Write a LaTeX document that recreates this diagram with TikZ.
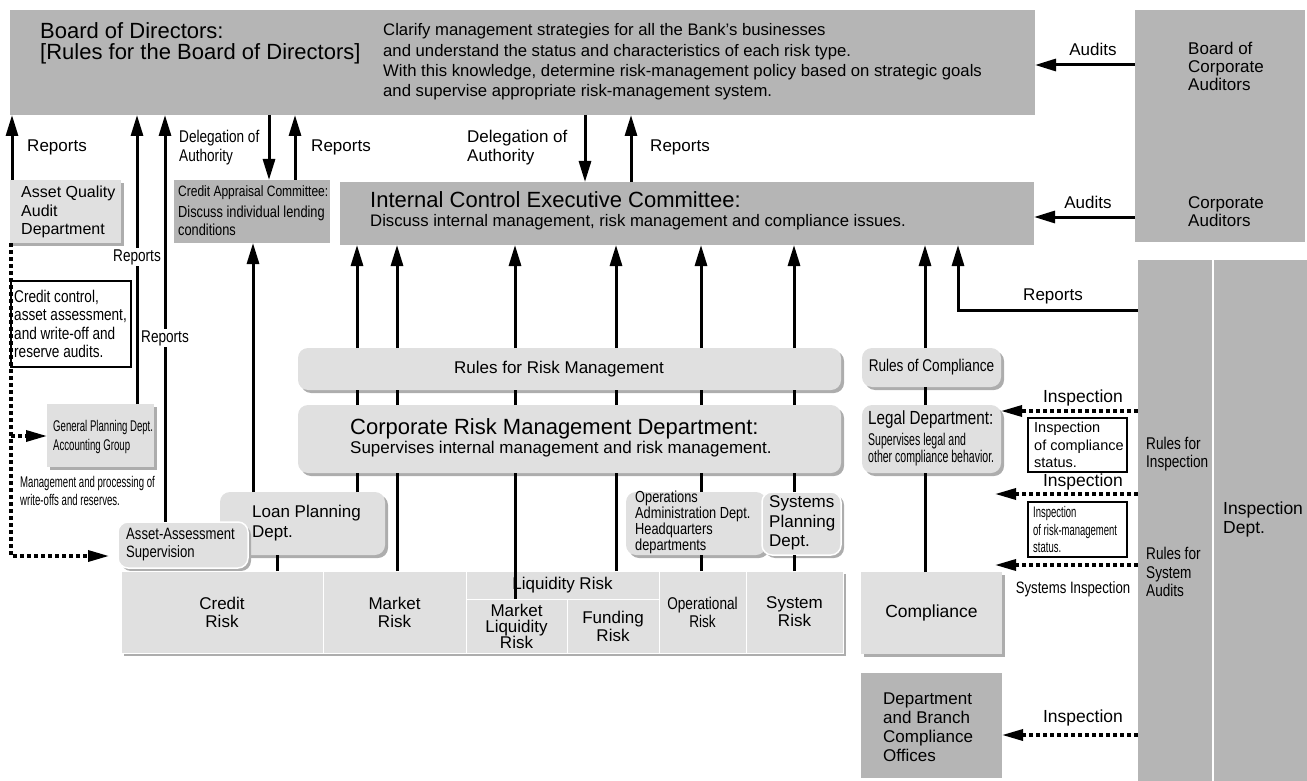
\documentclass[tikz,border=0pt]{standalone}
\usepackage{fontspec}
\setmainfont{Liberation Sans}
\newfontfamily\narrowfont[FakeStretch=0.8]{Liberation Sans}
\newfontfamily\condfont[FakeStretch=0.62]{Liberation Sans}
\usetikzlibrary{arrows.meta,shadows}
\definecolor{boxdark}{gray}{0.71}
\definecolor{boxlight}{gray}{0.88}
\definecolor{boxshade}{gray}{0.68}
\newcommand{\setfs}[2]{\fontsize{#1}{#2}\selectfont}
\tikzset{wh/.style 2 args={minimum width=#1pt, minimum height=#2pt}}

\begin{document}
\begin{tikzpicture}[x=1pt, y=-1pt,
            dark box/.style={fill=boxdark, inner sep=0pt, outer sep=0pt, anchor=north west},
            light box/.style={fill=boxlight, inner sep=0pt, outer sep=0pt, anchor=north west,
                drop shadow={shadow xshift=3pt, shadow yshift=-3pt, fill=boxshade, opacity=1}},
            round box/.style={light box, rounded corners=10pt},
            note box/.style={draw, fill=white, line width=1.2pt, inner sep=0pt, outer sep=0pt, anchor=north west},
            cell/.style={fill=boxlight, draw=white, line width=1pt, inner sep=0pt, outer sep=0pt, anchor=north west, align=center},
            note/.style={anchor=west, align=left, inner sep=0pt},
            tag/.style={inner sep=0pt, align=left},
            gap label/.style={fill=white, inner sep=1.5pt},
            solid line/.style={line width=3pt},
            solid arrow/.style={line width=3pt, -{Triangle[length=21pt, width=12pt]}},
            dotted arrow/.style={line width=3.3pt, dash pattern=on 4pt off 3pt, -{Triangle[length=21pt, width=11pt]}},
            ]
            \useasboundingbox (0,0) rectangle (1307,781);

            \node[dark box, wh={1025}{105}] (board) at (10,10) {};
            \node[note, font=\setfs{22}{21}] (boardtitle) at (40,43) {Board of Directors:\\ {[Rules for the Board of Directors]}};
            \node[note, font=\setfs{16.7}{20.3}] (boarddesc) at (383,62) {Clarify management strategies for all the Bank’s businesses\\and understand the status and characteristics of each risk type.\\With this knowledge, determine risk-management policy based on strategic goals\\and supervise appropriate risk-management system.};

            \node[dark box, wh={170}{232}] (auditors) at (1135,10) {};
            \node[note, font=\setfs{17}{18}] (boardauditors) at (1188,66) {Board of\\Corporate\\Auditors};
            \node[note, font=\setfs{17}{18}] (corpauditors) at (1188,212) {Corporate\\Auditors};

            \node[dark box, wh={694}{63}] (icec) at (340,182) {};
            \node[note, font=\setfs{22}{24}] (icectitle) at (370,200) {Internal Control Executive Committee:};
            \node[note, font=\setfs{16.7}{20}] (icecdesc) at (370,222) {Discuss internal management, risk management and compliance issues.};

            \node[dark box, wh={156}{63}] (appraisal) at (174,180) {};
            \node[note, font=\narrowfont\setfs{15}{18.5}] (appraisaltitle) at (178,193) {Credit Appraisal Committee:};
            \node[note, font=\narrowfont\setfs{16}{18.5}] (appraisaltext) at (178,221) {Discuss individual lending\\conditions};

            \node[light box, wh={111}{63}] (aqad) at (10,180) {};
            \node[note, font=\setfs{16}{18.5}] (aqadtext) at (21,212) {Asset Quality\\Audit\\Department};

            \node[note box, wh={120}{86}] (auditnote) at (11,281) {};
            \node[note, font=\narrowfont\setfs{17}{18.5}] (auditnotetext) at (14,324) {Credit control,\\asset assessment,\\and write-off and\\reserve audits.};

            \node[light box, wh={107}{63}] (gp) at (47,404) {};
            \node[note, font=\condfont\setfs{15.5}{19}] (gptext) at (53,437) {General Planning Dept.\\Accounting Group};
            \node[note, font=\condfont\setfs{15.5}{18}] (gpnote) at (20,491) {Management and processing of\\write-offs and reserves.};

            \node[round box, wh={543}{42}] (rulesrm) at (298,348) {};
            \node[font=\setfs{17}{20}, inner sep=0pt] (rulesrmtext) at (559,369) {Rules for Risk Management};
            \node[round box, wh={543}{68}] (crm) at (298,405) {};
            \node[note, font=\setfs{22}{22}] (crmtitle) at (350,429) {Corporate Risk Management Department:};
            \node[note, font=\setfs{17}{20}] (crmtext) at (350,449) {Supervises internal management and risk management.};

            \node[round box, wh={165}{63}] (loan) at (220,492) {};
            \node[note, font=\setfs{17}{20}] (loantext) at (252,523) {Loan Planning\\Dept.};
            \node[round box, draw=white, line width=1.5pt, wh={130}{46}] (aas) at (118,522) {};
            \node[note, font=\narrowfont\setfs{16.4}{18}] (aastext) at (126,545) {Asset-Assessment\\Supervision};
            \node[round box, wh={140}{63}] (ops) at (626,492) {};
            \node[note, font=\narrowfont\setfs{16}{14.5}] (opstext) at (635,522) {Operations\\Administration Dept.\\Headquarters\\departments};
            \node[round box, draw=white, line width=1.5pt, wh={79}{63}] (sysplan) at (762,492) {};
            \node[note, font=\setfs{17}{19.5}] (sysplantext) at (769,523) {Systems\\Planning\\Dept.};

            \node[light box, wh={722}{82}] (risks) at (121,571) {};
            \node[cell, wh={202}{82}, font=\setfs{17}{18}] (credit) at (121,571) {Credit\\Risk};
            \node[cell, wh={143}{82}, font=\setfs{17}{18}] (market) at (323,571) {Market\\Risk};
            \node[cell, wh={193}{28}, font=\setfs{17}{18}] (liquidity) at (466,571) {Liquidity Risk};
            \node[cell, wh={101}{54}, font=\setfs{17}{16}] (mktliq) at (466,599) {Market\\Liquidity\\Risk};
            \node[cell, wh={92}{54}, font=\setfs{17}{18}] (funding) at (567,599) {Funding\\Risk};
            \node[cell, wh={87}{82}, font=\narrowfont\setfs{17}{18}] (operational) at (659,571) {Operational\\Risk};
            \node[cell, wh={97}{82}, font=\setfs{17}{18}] (system) at (746,571) {System\\Risk};

            \node[round box, wh={139}{39}, font=\narrowfont\setfs{17}{20}] (rulescomp) at (862,348) {Rules of Compliance};
            \node[round box, wh={139}{68}] (legal) at (862,405) {};
            \node[note, font=\narrowfont\setfs{19}{20}] (legaltitle) at (868,420) {Legal Department:};
            \node[note, font=\condfont\setfs{17}{17}] (legaltext) at (868,450) {Supervises legal and\\other compliance behavior.};
            \node[light box, wh={141}{82}, font=\setfs{17.5}{20}] (compliance) at (861,572) {Compliance};
            \node[dark box, wh={141}{105}] (offices) at (861,673) {};
            \node[note, font=\setfs{17}{19}] (officestext) at (883,727) {Department\\and Branch\\Compliance\\Offices};

            \node[dark box, wh={74}{521}] (rulescol) at (1138,260) {};
            \node[dark box, wh={93}{521}] (inspdept) at (1214,260) {};
            \node[note, font=\narrowfont\setfs{17}{18.5}] (insprules) at (1146,454) {Rules for\\Inspection};
            \node[note, font=\narrowfont\setfs{17}{18.5}] (sysrules) at (1146,572) {Rules for\\System\\Audits};
            \node[note, font=\setfs{17.5}{19}] (inspdepttext) at (1223,519) {Inspection\\Dept.};

            \node[note box, wh={99}{54}] (compnote) at (1028,418) {};
            \node[note, font=\setfs{14.5}{17.5}] (compnotetext) at (1034,445) {Inspection\\of compliance\\status.};
            \node[note box, wh={99}{55}] (risknote) at (1028,502) {};
            \node[note, font=\condfont\setfs{15.3}{17.5}] (risknotetext) at (1033,530) {Inspection\\of risk-management\\status.};

            \node[tag, font=\setfs{17}{20}] (reportsa) at (57,147) {Reports};
            \node[note, font=\narrowfont\setfs{17}{19}] (delega) at (179,148) {Delegation of\\Authority};
            \node[tag, font=\setfs{17}{20}] (reportsb) at (341,147) {Reports};
            \node[note, font=\setfs{17}{19}] (delegb) at (467,148) {Delegation of\\Authority};
            \node[tag, font=\setfs{17}{20}] (reportsc) at (680,147) {Reports};
            \node[tag, font=\setfs{17}{20}] (auditsa) at (1093,49) {Audits};
            \node[tag, font=\setfs{17}{20}] (auditsb) at (1088,202) {Audits};
            \node[tag, font=\setfs{17}{20}] (reportsd) at (1053,296) {Reports};
            \node[tag, font=\setfs{17.5}{20}] (inspa) at (1083,398) {Inspection};
            \node[tag, font=\setfs{17.5}{20}] (inspb) at (1083,482) {Inspection};
            \node[tag, font=\narrowfont\setfs{16.5}{20}] (sysinsp) at (1073,589) {Systems Inspection};
            \node[tag, font=\setfs{17.5}{20}] (inspc) at (1083,718) {Inspection};

            \coordinate (dropa) at (11,436);
            \coordinate (dropb) at (11,556);
            \coordinate (riskend) at (995,494);
            \coordinate (sysend) at (995,565);

            \draw[solid arrow] (aqad.north -| 12,0) -- (board.south -| 12,0);
            \draw[solid arrow] (gp.north -| 137,0) -- (board.south -| 137,0);
            \draw[solid arrow] (aas.north -| 165,0) -- (board.south -| 165,0);
            \draw[solid arrow] (board.south -| 269,0) -- (appraisal.north -| 269,0);
            \draw[solid arrow] (appraisal.north -| 295,0) -- (board.south -| 295,0);
            \draw[solid arrow] (board.south -| 585,0) -- (icec.north -| 585,0);
            \draw[solid arrow] (icec.north -| 631,0) -- (board.south -| 631,0);
            \draw[solid arrow] (auditors.west |- 0,65) -- (board.east |- 0,65);
            \draw[solid arrow] (auditors.west |- 0,217) -- (icec.east |- 0,217);
            \draw[solid arrow] (loan.north -| 253,0) -- (appraisal.south -| 253,0);

            \draw[solid arrow] (rulesrm.north -| 357,0) -- (icec.south -| 357,0);
            \draw[solid arrow] (rulesrm.north -| 397,0) -- (icec.south -| 397,0);
            \draw[solid arrow] (rulesrm.north -| 515,0) -- (icec.south -| 515,0);
            \draw[solid arrow] (rulesrm.north -| 616,0) -- (icec.south -| 616,0);
            \draw[solid arrow] (rulesrm.north -| 701,0) -- (icec.south -| 701,0);
            \draw[solid arrow] (rulesrm.north -| 794,0) -- (icec.south -| 794,0);
            \draw[solid line] (crm.north -| 357,0) -- (rulesrm.south -| 357,0);
            \draw[solid line] (crm.north -| 397,0) -- (rulesrm.south -| 397,0);
            \draw[solid line] (crm.north -| 515,0) -- (rulesrm.south -| 515,0);
            \draw[solid line] (crm.north -| 616,0) -- (rulesrm.south -| 616,0);
            \draw[solid line] (crm.north -| 701,0) -- (rulesrm.south -| 701,0);
            \draw[solid line] (crm.north -| 794,0) -- (rulesrm.south -| 794,0);

            \draw[solid line] (loan.north -| 357,0) -- (crm.south -| 357,0);
            \draw[solid line] (market.north -| 397,0) -- (crm.south -| 397,0);
            \draw[solid line] (mktliq.north -| 515,0) -- (crm.south -| 515,0);
            \draw[solid line] (liquidity.north -| 616,0) -- (crm.south -| 616,0);
            \draw[solid line] (ops.north -| 701,0) -- (crm.south -| 701,0);
            \draw[solid line] (operational.north -| 701,0) -- (ops.south -| 701,0);
            \draw[solid line] (sysplan.north -| 794,0) -- (crm.south -| 794,0);
            \draw[solid line] (system.north -| 794,0) -- (sysplan.south -| 794,0);
            \draw[solid line] (credit.north -| 277,0) -- (loan.south -| 277,0);

            \draw[solid arrow] (rulescomp.north -| 925,0) -- (icec.south -| 925,0);
            \draw[solid line] (legal.north -| 925,0) -- (rulescomp.south -| 925,0);
            \draw[solid line] (compliance.north -| 925,0) -- (legal.south -| 925,0);
            \draw[solid arrow] (rulescol.west |- 0,310) -| (icec.south -| 958,0);

            \draw[dotted arrow, shorten >=9pt] (aqad.south -| 11,0) -- (dropb) -- (aas.west |- dropb);
            \draw[dotted arrow] (dropa) -- (gp.west |- dropa);
            \draw[dotted arrow] (rulescol.west |- 0,411) -- (legal.east |- 0,411);
            \draw[dotted arrow] (rulescol.west |- riskend) -- (riskend);
            \draw[dotted arrow] (rulescol.west |- sysend) -- (sysend);
            \draw[dotted arrow] (rulescol.west |- 0,735) -- (offices.east |- 0,735);

            \node[gap label, font=\narrowfont\setfs{17}{20}] (reportse) at (137,257) {Reports};
            \node[gap label, font=\narrowfont\setfs{17}{20}] (reportsf) at (165,338) {Reports};
        \end{tikzpicture}
\end{document}
